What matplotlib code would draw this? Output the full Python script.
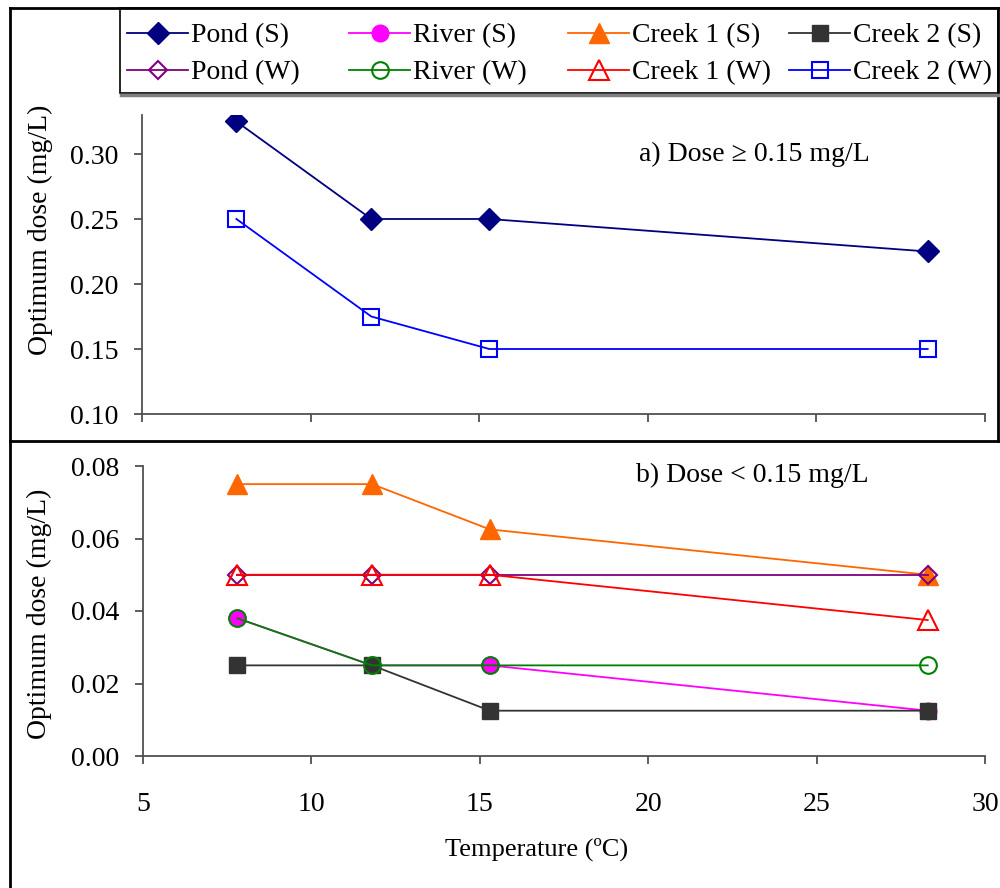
import matplotlib
matplotlib.use("Agg")
import matplotlib.pyplot as plt
from matplotlib.patches import Rectangle
from matplotlib.lines import Line2D

plt.rcParams['font.family'] = ['Liberation Serif', 'DejaVu Serif']

# ---------------- data ----------------
temperature = [7.8, 11.8, 15.3, 28.3]

# panel a (dose >= 0.15 mg/L)
pond_s = [0.325, 0.25, 0.25, 0.225]
creek2_w = [0.25, 0.175, 0.15, 0.15]

# panel b (dose < 0.15 mg/L)
river_s = [0.038, 0.025, 0.025, 0.0125]
creek1_s = [0.075, 0.075, 0.0625, 0.05]
creek2_s = [0.025, 0.025, 0.0125, 0.0125]
pond_w = [0.05, 0.05, 0.05, 0.05]
river_w = [0.038, 0.025, 0.025, 0.025]
creek1_w = [0.05, 0.05, 0.05, 0.0375]

top_yticks = [0.10, 0.15, 0.20, 0.25, 0.30]
bot_yticks = [0.00, 0.02, 0.04, 0.06, 0.08]
xticks = [5, 10, 15, 20, 25, 30]

legend_labels = ['Pond (S)', 'River (S)', 'Creek 1 (S)', 'Creek 2 (S)',
                 'Pond (W)', 'River (W)', 'Creek 1 (W)', 'Creek 2 (W)']

# ---------------- styles ----------------
styles = {
    'Pond (S)':    dict(color='#000080', marker='D', ms=11, mfc='#000080', mec='#000080'),
    'River (S)':   dict(color='#FF00FF', marker='o', ms=12, mfc='#FF00FF', mec='#FF00FF'),
    'Creek 1 (S)': dict(color='#FF6600', marker='^', ms=14, mfc='#FF6600', mec='#FF6600'),
    'Creek 2 (S)': dict(color='#333333', marker='s', ms=12, mfc='#333333', mec='#333333'),
    'Pond (W)':    dict(color='#800080', marker='D', ms=9.5, mfc='none', mec='#800080', mew=1.5),
    'River (W)':   dict(color='#008000', marker='o', ms=12, mfc='none', mec='#008000', mew=1.5),
    'Creek 1 (W)': dict(color='#FF0000', marker='^', ms=14, mfc='none', mec='#FF0000', mew=1.5),
    'Creek 2 (W)': dict(color='#0000FF', marker='s', ms=12, mfc='none', mec='#0000FF', mew=1.5),
}
LW = 1.3
AXC = '#505050'
FS = 20

fig = plt.figure(figsize=(10, 8.88), dpi=100)
W, H = 1000, 888

def fx(px):
    return px / W

def fy(py):
    return 1 - py / H

ax1 = fig.add_axes([fx(142), fy(414), fx(985) - fx(142), fy(115) - fy(414)])
ax2 = fig.add_axes([fx(143), fy(756), fx(985) - fx(143), fy(466) - fy(756)])

ax1.plot(temperature, pond_s, lw=LW, label='Pond (S)', **styles['Pond (S)'])
ax1.plot(temperature, creek2_w, lw=LW, label='Creek 2 (W)', **styles['Creek 2 (W)'])

for lab, vals in [('River (S)', river_s), ('Creek 1 (S)', creek1_s),
                  ('Creek 2 (S)', creek2_s), ('Pond (W)', pond_w),
                  ('River (W)', river_w), ('Creek 1 (W)', creek1_w)]:
    ax2.plot(temperature, vals, lw=LW, label=lab, **styles[lab])

for ax in (ax1, ax2):
    ax.set_xlim(5, 30)
    ax.set_xticks(xticks)
    for s in ['top', 'right']:
        ax.spines[s].set_visible(False)
    for s in ['left', 'bottom']:
        ax.spines[s].set_color(AXC)
        ax.spines[s].set_linewidth(1.3)
    ax.tick_params(axis='both', direction='out', length=6, width=1.3,
                   color=AXC, labelsize=FS)
    ax.tick_params(axis='y', pad=11)
    ax.tick_params(axis='x', pad=20)
    ax.set_facecolor('none')

ax1.set_ylim(0.10, 0.33)
ax1.set_yticks(top_yticks)
ax1.set_yticklabels([f'{v:.2f}' for v in top_yticks])
ax1.tick_params(axis='x', labelbottom=False)

ax2.set_ylim(0.0, 0.08)
ax2.set_yticks(bot_yticks)
ax2.set_yticklabels([f'{v:.2f}' for v in bot_yticks])
ax2.set_xticklabels([str(v) for v in xticks])

ax1.text(19.75, 0.30, 'a) Dose \u2265 0.15 mg/L', fontsize=FS, ha='left', va='center')
ax2.text(19.65, 0.0775, 'b) Dose < 0.15 mg/L', fontsize=FS, ha='left', va='center')

fig.text(fx(40), fy(230), 'Optimum dose (mg/L)', rotation=90, fontsize=FS,
         ha='center', va='center')
fig.text(fx(39), fy(614), 'Optimum dose (mg/L)', rotation=90, fontsize=FS,
         ha='center', va='center')
fig.text(fx(537), fy(849), 'Temperature (\u00baC)', fontsize=19, ha='center', va='center')

# ---------------- frames ----------------
frame_kw = dict(transform=fig.transFigure, color='black', lw=2.0, clip_on=False)
fig.add_artist(Line2D([fx(10), fx(998)], [fy(8), fy(8)], **frame_kw))
fig.add_artist(Line2D([fx(998), fx(998)], [fy(8), fy(441)], **frame_kw))
fig.add_artist(Line2D([fx(10), fx(998)], [fy(441), fy(441)], **frame_kw))
fig.add_artist(Line2D([fx(10), fx(10)], [fy(8), fy(888)], **frame_kw))

# legend box with shadow
fig.add_artist(Line2D([fx(121), fx(999)], [fy(95), fy(95)], transform=fig.transFigure,
                      color='#808080', lw=2.5))
fig.add_artist(Rectangle((fx(120), fy(93)), fx(998) - fx(120), fy(8) - fy(93),
                         transform=fig.transFigure, facecolor='white',
                         edgecolor='black', lw=1.2))

# legend: one legend per column, placed at measured positions
col_x = [127, 349, 568, 789]
for ci in range(4):
    labs = [legend_labels[ci], legend_labels[ci + 4]]
    handles = [Line2D([], [], lw=LW, **styles[l]) for l in labs]
    fig.legend(handles, labs, loc='upper left',
               bbox_to_anchor=(fx(col_x[ci]), fy(23)),
               frameon=False, fontsize=FS, handlelength=2.2, handletextpad=0.1,
               borderpad=0.0, borderaxespad=0.0, labelspacing=0.42,
               markerscale=1.0)

fig.savefig('out.png', dpi=100)
